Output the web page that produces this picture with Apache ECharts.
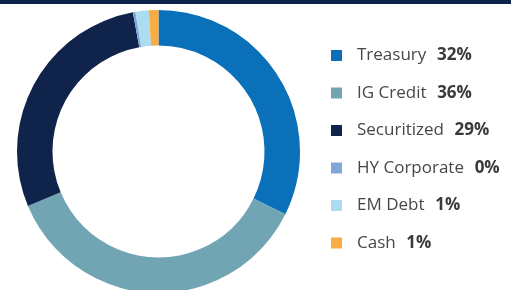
<!DOCTYPE html>
<html lang="en">
<head>
    <meta charset="UTF-8">
    <title>Allocation</title>
    <style type="text/css">
        html, body { margin: 0; padding: 0; background: #fff; }
        #chart { width: 511px; height: 290px; }
    </style>
    <script src="https://cdn.jsdelivr.net/npm/echarts@6/dist/echarts.min.js"></script>
</head>
<body>
<div id="chart"></div>
<script type="application/javascript">
    var sectors = ['Treasury', 'IG Credit', 'Securitized', 'HY Corporate', 'EM Debt', 'Cash'];
    var weights = [32.3, 36.4, 28.4, 0.3, 1.5, 1.1];
    var shownPct = ['32%', '36%', '29%', '0%', '1%', '1%'];
    var colors = ['#0a70b9', '#72a5b4', '#10244b', '#7fa6d9', '#abdcf1', '#f9ac44'];

    var pieData = [];
    for (var i = 0; i < sectors.length; i++) {
        pieData.push({ name: sectors[i], value: weights[i], itemStyle: { color: colors[i] } });
    }

    var chart = echarts.init(document.getElementById('chart'));
    chart.setOption({
        animation: false,
        graphic: [{
            type: 'rect',
            left: 0, top: 0,
            shape: { width: 511, height: 4 },
            style: { fill: '#0c2249' },
            z: 10
        }],
        legend: {
            orient: 'vertical',
            left: 331,
            top: 47,
            padding: 0,
            icon: 'rect',
            itemWidth: 11,
            itemHeight: 11,
            itemGap: 20.5,
            selectedMode: false,
            data: sectors,
            formatter: function (name) {
                return '{n|' + name + '}  {p|' + shownPct[sectors.indexOf(name)] + '}';
            },
            textStyle: {
                padding: [0, 0, 0, 10],
                rich: {
                    n: { fontFamily: 'Open Sans', fontSize: 17, color: '#474747', lineHeight: 20 },
                    p: { fontFamily: 'Open Sans', fontSize: 17, fontWeight: 'bold', color: '#3a3a3a', lineHeight: 20, padding: [0, 0, 0, 4] }
                }
            }
        },
        series: [{
            type: 'pie',
            center: [158.5, 151.5],
            radius: [106, 141.5],
            startAngle: 90,
            clockwise: true,
            label: { show: false },
            labelLine: { show: false },
            emphasis: { disabled: true },
            itemStyle: { borderWidth: 0 },
            data: pieData
        }]
    });
</script>
</body>
</html>
